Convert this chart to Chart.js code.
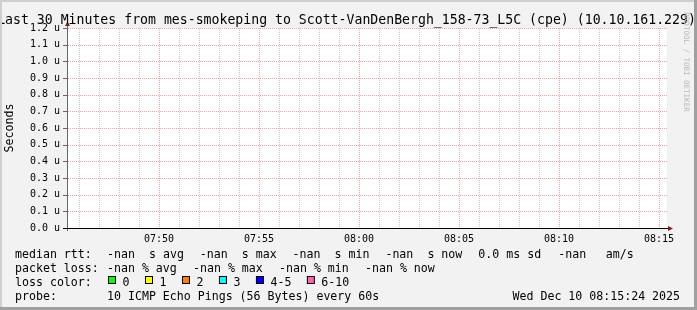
<!DOCTYPE html>
<html>
<head>
<meta charset="utf-8">
<script src="https://cdn.jsdelivr.net/npm/chart.js@4.4.1/dist/chart.umd.min.js"></script>
<style>
    html, body { margin: 0; padding: 0; background: #f2f2f2; }
    canvas { display: block; }
</style>
</head>
<body>
<canvas id="smokeChart" width="697" height="310"></canvas>
<script>
// Période affichée
const startTime = '07:45:24';
const endTime = '08:15:24';
const timeLabels = ['07:50', '07:55', '08:00', '08:05', '08:10', '08:15'];

// Axe Y (microsecondes)
const yMax = 1.2;
const yStep = 0.1;

// Aucune mesure sur la période
const medianRtt = [];

// Légende
const rttValues = ['-nan', '-nan', '-nan', '-nan'];
const rttUnits = ['s avg', 's max', 's min', 's now'];
const rttSd = '0.0 ms sd';
const rttAm = ['-nan', 'am/s'];
const lossValues = ['-nan', '-nan', '-nan', '-nan'];
const lossUnits = ['% avg', '% max', '% min', '% now'];
const lossColorLabels = ['0', '1', '2', '3', '4-5', '6-10'];
const lossColors = ['#00ff00', '#ffff00', '#ff8000', '#00ffff', '#0000ff', '#ff66aa'];
const probeText = '10 ICMP Echo Pings (56 Bytes) every 60s';
const stampText = 'Wed Dec 10 08:15:24 2025';
const titleText = 'Last 30 Minutes from mes-smokeping to Scott-VanDenBergh_158-73_L5C (cpe) (10.10.161.229)';

const mono = "'DejaVu Sans Mono', monospace";
const majorGrid = '#f5a3a3';
const minorGrid = '#c8c8c8';

function toSeconds(t) {
    const p = t.split(':').map(Number);
    return p[0] * 3600 + p[1] * 60 + (p[2] || 0);
}

const xMin = toSeconds(startTime);
const xMax = toSeconds(endTime);
const majorTicks = timeLabels.map(toSeconds);

// une graduation par minute
const minuteTicks = [];
for (let t = Math.ceil(xMin / 60) * 60; t <= xMax; t += 60) {
    minuteTicks.push(t);
}

// Grille pointillée dessinée pixel par pixel (les traits en pointillés
// ne gardent pas leur couleur dans le rendu)
const dottedGrid = {
    id: 'dottedGrid',
    beforeDatasetsDraw(chart) {
        const ctx = chart.ctx;
        const a = chart.chartArea;
        const xs = chart.scales.x;
        const ys = chart.scales.y;
        ctx.save();
        // lignes verticales : minutes en gris, 5 minutes en rose
        xs.ticks.forEach(t => {
            const px = Math.round(xs.getPixelForValue(t.value));
            ctx.fillStyle = majorTicks.includes(t.value) ? majorGrid : minorGrid;
            for (let y = a.top; y < a.bottom; y += 2) {
                ctx.fillRect(px, y, 1, 1);
            }
        });
        // lignes horizontales + petites graduations
        ys.ticks.forEach(t => {
            const py = Math.round(ys.getPixelForValue(t.value));
            ctx.fillStyle = majorGrid;
            for (let x = a.left + 1; x < a.right; x += 2) {
                ctx.fillRect(x, py, 1, 1);
            }
            ctx.fillStyle = '#666';
            ctx.fillRect(a.left - 4, py, 4, 1);
        });
        ctx.restore();
    }
};

// Dessin façon RRDtool : fond, axes, titre, légende
const rrdFrame = {
    id: 'rrdFrame',
    beforeDraw(chart) {
        const ctx = chart.ctx;
        const a = chart.chartArea;
        ctx.save();
        ctx.fillStyle = '#f2f2f2';
        ctx.fillRect(0, 0, chart.width, chart.height);
        ctx.fillStyle = '#ffffff';
        ctx.fillRect(a.left, a.top, a.right - a.left, a.bottom - a.top);
        ctx.restore();
    },
    afterDraw(chart) {
        const ctx = chart.ctx;
        const a = chart.chartArea;
        ctx.save();

        // axes
        ctx.fillStyle = '#666';
        ctx.fillRect(a.left, a.top - 3, 1, a.bottom - a.top + 6);
        ctx.fillStyle = '#000';
        ctx.fillRect(a.left - 4, a.bottom, a.right - a.left + 5, 1);

        // flèches
        ctx.fillStyle = '#8b1a1a';
        ctx.beginPath();
        ctx.moveTo(a.right + 1, a.bottom - 2);
        ctx.lineTo(a.right + 6, a.bottom + 0.5);
        ctx.lineTo(a.right + 1, a.bottom + 3);
        ctx.closePath();
        ctx.fill();
        ctx.beginPath();
        ctx.moveTo(a.left - 2, a.top - 2);
        ctx.lineTo(a.left + 0.5, a.top - 6.5);
        ctx.lineTo(a.left + 3, a.top - 2);
        ctx.closePath();
        ctx.fill();

        // titre
        ctx.fillStyle = '#000';
        ctx.font = '13.2px ' + mono;
        ctx.textAlign = 'center';
        ctx.textBaseline = 'alphabetic';
        ctx.fillText(titleText, 346.5, 24);

        // légende
        ctx.font = '11.6px ' + mono;
        ctx.textAlign = 'left';
        const cw = ctx.measureText('0').width;
        ctx.fillText('median rtt:', 15, 258);
        rttValues.forEach((v, i) => {
            ctx.fillText(v, 107 + i * 92.8, 258);
            ctx.fillText(rttUnits[i], 149 + i * 92.8, 258);
        });
        ctx.fillText(rttSd, 478.3, 258);
        ctx.fillText(rttAm[0], 558.3, 258);
        ctx.fillText(rttAm[1], 605.7, 258);

        ctx.fillText('packet loss:', 15, 272);
        lossValues.forEach((v, i) => {
            ctx.fillText(v + ' ' + lossUnits[i], 107 + i * 86, 272);
        });

        ctx.fillText('loss color:', 15, 286);
        let bx = 108;
        lossColorLabels.forEach((lab, i) => {
            ctx.fillStyle = '#000';
            ctx.fillRect(bx, 276, 8, 8);
            ctx.fillStyle = lossColors[i];
            ctx.fillRect(bx + 1, 277, 6, 6);
            ctx.fillStyle = '#000';
            ctx.fillText(lab, bx + 14.5, 286);
            bx = bx + 15 + lab.length * cw + 15;
        });

        ctx.fillText('probe:', 15, 300);
        ctx.fillText(probeText, 107, 300);
        ctx.fillText(stampText, 512.5, 300);

        // filigrane
        ctx.save();
        ctx.translate(686, 62);
        ctx.rotate(Math.PI / 2);
        ctx.font = '7.5px ' + mono;
        ctx.fillStyle = '#b8b8b8';
        ctx.textAlign = 'center';
        ctx.textBaseline = 'middle';
        ctx.fillText('RRDTOOL / TOBI OETIKER', 0, 0);
        ctx.restore();

        // bordure
        ctx.fillStyle = '#cfcfcf';
        ctx.fillRect(0, 0, chart.width, 2);
        ctx.fillRect(0, 0, 2, chart.height);
        ctx.fillStyle = '#a0a0a0';
        ctx.fillRect(chart.width - 3, 0, 3, chart.height);
        ctx.fillRect(0, chart.height - 3, chart.width, 3);

        ctx.restore();
    }
};

const ctx = document.getElementById('smokeChart').getContext('2d');
const smokeChart = new Chart(ctx, {
    type: 'line',
    data: {
        datasets: [{
            label: 'median rtt',
            data: medianRtt,
            borderColor: '#00ff00',
            pointRadius: 0
        }]
    },
    options: {
        responsive: false,
        animation: false,
        layout: {
            padding: { left: 0, top: 28, right: 30, bottom: 0 }
        },
        plugins: {
            legend: { display: false },
            tooltip: { enabled: false },
            title: { display: false }
        },
        scales: {
            x: {
                type: 'linear',
                min: xMin,
                max: xMax,
                afterBuildTicks: function(scale) {
                    scale.ticks = minuteTicks.map(v => ({ value: v }));
                },
                afterFit: function(scale) {
                    scale.height = 82;
                },
                grid: { display: false, drawTicks: false },
                border: { display: false },
                ticks: {
                    autoSkip: false,
                    maxRotation: 0,
                    padding: 5,
                    color: '#000',
                    font: { family: mono, size: 10 },
                    callback: function(value) {
                        const i = majorTicks.indexOf(value);
                        return i >= 0 ? timeLabels[i] : '';
                    }
                }
            },
            y: {
                min: 0,
                max: yMax,
                afterFit: function(scale) {
                    scale.width = 67;
                },
                grid: { display: false, drawTicks: true, tickLength: 4 },
                border: { display: false },
                ticks: {
                    stepSize: yStep,
                    padding: 3,
                    color: '#000',
                    font: { family: mono, size: 10 },
                    callback: function(value) {
                        return value.toFixed(1) + ' u';
                    }
                },
                title: {
                    display: true,
                    text: 'Seconds',
                    color: '#000',
                    font: { family: mono, size: 11.6 },
                    padding: { top: 3, bottom: 0 }
                }
            }
        }
    },
    plugins: [rrdFrame, dottedGrid]
});
</script>
</body>
</html>
